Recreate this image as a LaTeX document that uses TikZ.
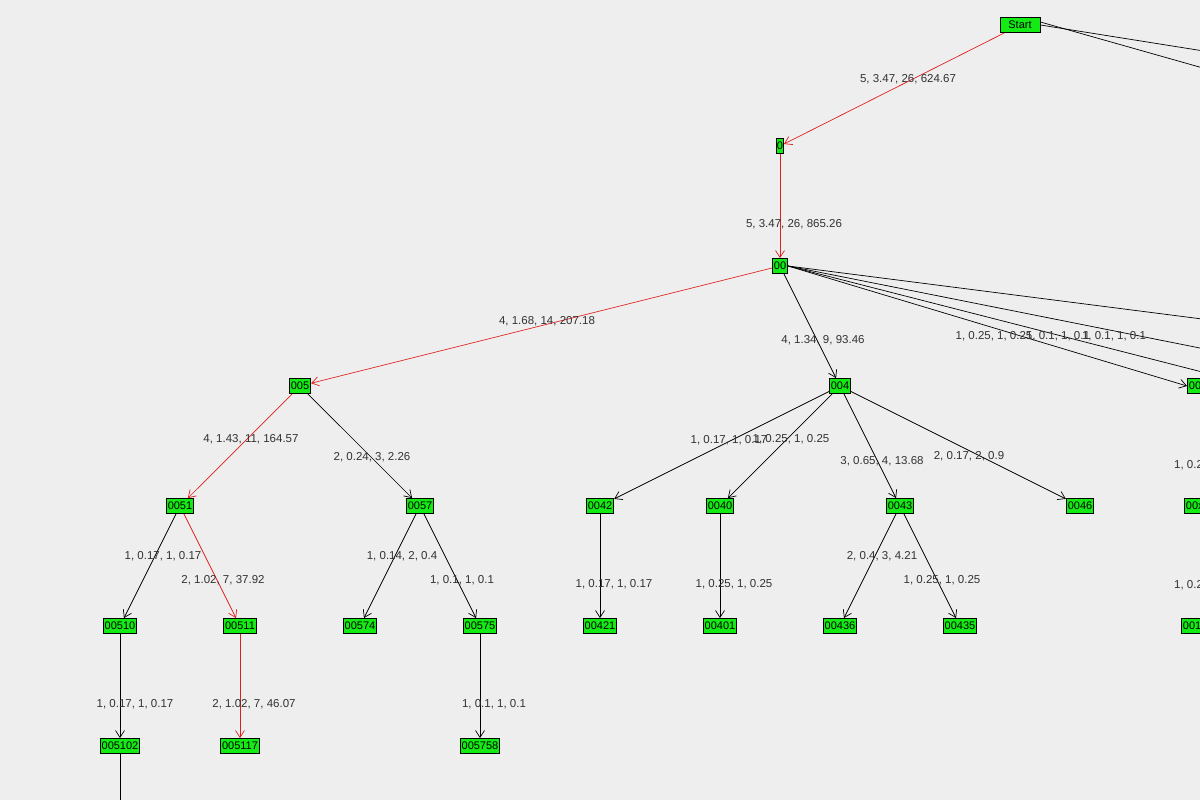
\documentclass[tikz,border=0pt]{standalone}
\usepackage{fontspec}
\setmainfont{Liberation Sans}
\usetikzlibrary{arrows.meta}
\definecolor{bg}{RGB}{238,238,238}
\definecolor{ng}{RGB}{20,235,20}
\definecolor{er}{RGB}{225,30,30}
\definecolor{lt}{RGB}{50,50,50}
\begin{document}
\begin{tikzpicture}[x=1pt,y=-1pt,
 nd/.style={draw=black,fill=ng,inner sep=1.5pt,minimum height=15pt,font=\fontsize{11}{12}\selectfont,line width=0.8pt},
 ed/.style={draw=black,line width=0.7pt,-{Straight Barb[length=7pt,width=9pt]}},
 red/.style={ed,draw=er},
 ln/.style={draw=black,line width=0.7pt},
 lb/.style={font=\fontsize{11.5}{12}\selectfont,text=lt,inner sep=0pt}]
\fill[bg] (0,0) rectangle (1200,800);
\useasboundingbox (0,0) rectangle (1200,800);
\clip (0,0) rectangle (1200,800);
\node[nd,minimum width=40pt] (start) at (1020,25) {Start};
\node[nd,inner sep=0.5pt] (n0) at (780,146) {0};
\node[nd] (n00) at (780,266) {00};
\node[nd] (n005) at (300,386) {005};
\node[nd] (n004) at (840,386) {004};
\node[nd,anchor=west] (n00x) at (1187,386) {00x};
\node[nd] (n0051) at (180,506) {0051};
\node[nd] (n0057) at (420,506) {0057};
\node[nd] (n0042) at (600,506) {0042};
\node[nd] (n0040) at (720,506) {0040};
\node[nd] (n0043) at (900,506) {0043};
\node[nd] (n0046) at (1080,506) {0046};
\node[nd,anchor=west] (r1) at (1184,506) {00xx};
\node[nd] (n00510) at (120,626) {00510};
\node[nd] (n00511) at (240,626) {00511};
\node[nd] (n00574) at (360,626) {00574};
\node[nd] (n00575) at (480,626) {00575};
\node[nd] (n00421) at (600,626) {00421};
\node[nd] (n00401) at (720,626) {00401};
\node[nd] (n00436) at (840,626) {00436};
\node[nd] (n00435) at (960,626) {00435};
\node[nd,anchor=west] (r2) at (1181,626) {001xx};
\node[nd] (n005102) at (120,746) {005102};
\node[nd] (n005117) at (240,746) {005117};
\node[nd] (n005758) at (480,746) {005758};
\coordinate (s1) at (1210,52);
\coordinate (s2) at (1210,70);
\coordinate (e1) at (1210,320);
\coordinate (e2) at (1210,350);
\coordinate (e3) at (1210,374);
\coordinate (bot) at (120,810);
\draw[red] (start) -- (n0);
\draw[ln] (start.east) -- (s1);
\draw[ln] ([yshift=3pt]start.east) -- (s2);
\draw[red] (n0) -- (n00);
\draw[red] (n00) -- (n005);
\draw[ed] (n00) -- (n004);
\draw[ln] (n00.east) -- (e1);
\draw[ln] (n00.east) -- (e2);
\draw[ln] (n00.east) -- (e3);
\draw[ed] (n00.east) -- (n00x.west);
\draw[red] (n005) -- (n0051);
\draw[ed] (n005) -- (n0057);
\draw[ed] (n004) -- (n0042);
\draw[ed] (n004) -- (n0040);
\draw[ed] (n004) -- (n0043);
\draw[ed] (n004) -- (n0046);
\draw[ed] (n0051) -- (n00510);
\draw[red] (n0051) -- (n00511);
\draw[ed] (n0057) -- (n00574);
\draw[ed] (n0057) -- (n00575);
\draw[ed] (n0042) -- (n00421);
\draw[ed] (n0040) -- (n00401);
\draw[ed] (n0043) -- (n00436);
\draw[ed] (n0043) -- (n00435);
\draw[ed] (n00510) -- (n005102);
\draw[red] (n00511) -- (n005117);
\draw[ed] (n00575) -- (n005758);
\draw[ln] (n005102) -- (bot);
\node[lb] at (908,79) {5, 3.47, 26, 624.67};
\node[lb] at (794,224) {5, 3.47, 26, 865.26};
\node[lb] at (547,321) {4, 1.68, 14, 207.18};
\node[lb] at (823,340) {4, 1.34, 9, 93.46};
\node[lb] at (994,336) {1, 0.25, 1, 0.25};
\node[lb] at (1058,336) {1, 0.1, 1, 0.1};
\node[lb] at (1114,336) {1, 0.1, 1, 0.1};
\node[lb] at (251,439) {4, 1.43, 11, 164.57};
\node[lb] at (372,457) {2, 0.24, 3, 2.26};
\node[lb] at (729,440) {1, 0.17, 1, 0.17};
\node[lb] at (791,439) {1, 0.25, 1, 0.25};
\node[lb] at (882,461) {3, 0.65, 4, 13.68};
\node[lb] at (969,456) {2, 0.17, 2, 0.9};
\node[lb,anchor=west] at (1174,465) {1, 0.25, 1, 0.25};
\node[lb] at (163,556) {1, 0.17, 1, 0.17};
\node[lb] at (223,580) {2, 1.02, 7, 37.92};
\node[lb] at (402,556) {1, 0.14, 2, 0.4};
\node[lb] at (462,580) {1, 0.1, 1, 0.1};
\node[lb] at (614,584) {1, 0.17, 1, 0.17};
\node[lb] at (734,584) {1, 0.25, 1, 0.25};
\node[lb] at (882,556) {2, 0.4, 3, 4.21};
\node[lb] at (942,580) {1, 0.25, 1, 0.25};
\node[lb,anchor=west] at (1174,585) {1, 0.25, 1, 0.25};
\node[lb] at (135,704) {1, 0.17, 1, 0.17};
\node[lb] at (254,704) {2, 1.02, 7, 46.07};
\node[lb] at (494,704) {1, 0.1, 1, 0.1};
\end{tikzpicture}
\end{document}
